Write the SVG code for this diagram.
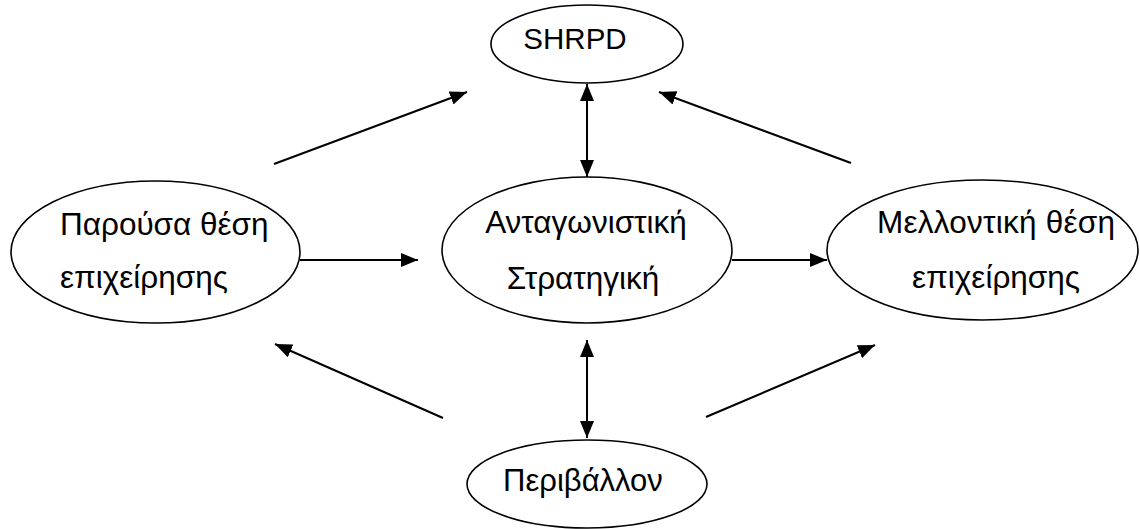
<svg xmlns="http://www.w3.org/2000/svg" width="1140" height="529" viewBox="0 0 1140 529">
<style>
.node ellipse{fill:#fff;stroke:#000;stroke-width:1.6}
.node text{font-family:"Liberation Sans",Arial,sans-serif;font-size:31.5px;fill:#000}
#shrpd text{font-size:29.5px}
#perivallon text{font-size:31px}
.c line{stroke:#000;stroke-width:2}
.a{marker-end:url(#ah)}
.d{marker-start:url(#ah);marker-end:url(#ah)}
</style>
<defs>
<marker id="ah" markerUnits="userSpaceOnUse" markerWidth="18" markerHeight="14" refX="17" refY="7" orient="auto-start-reverse" viewBox="0 0 18 14">
<path d="M0,0 L17,7 L0,14 z" fill="#000"/>
</marker>
</defs>
<rect width="1140" height="529" fill="#fff"/>
<g id="shrpd" class="node">
<ellipse cx="587" cy="44" rx="96" ry="39"/>
<text x="575" y="49" text-anchor="middle">SHRPD</text>
</g>
<g id="parousa" class="node">
<ellipse cx="155.5" cy="252" rx="144.5" ry="71"/>
<text x="60" y="235">Παρούσα θέση</text>
<text x="60" y="288">επιχείρησης</text>
</g>
<g id="antagonistiki" class="node">
<ellipse cx="587" cy="250" rx="145" ry="73"/>
<text x="586" y="233" text-anchor="middle">Ανταγωνιστική</text>
<text x="583" y="289" text-anchor="middle">Στρατηγική</text>
</g>
<g id="mellontiki" class="node">
<ellipse cx="982.5" cy="250" rx="155.5" ry="70"/>
<text x="996" y="233" text-anchor="middle" textLength="238">Μελλοντική θέση</text>
<text x="996" y="288" text-anchor="middle">επιχείρησης</text>
</g>
<g id="perivallon" class="node">
<ellipse cx="587" cy="484" rx="120" ry="44"/>
<text x="583" y="491" text-anchor="middle">Περιβάλλον</text>
</g>
<g id="connectors" class="c">
<line class="a" x1="274" y1="164" x2="467" y2="92"/>
<line class="a" x1="851" y1="163" x2="659" y2="92"/>
<line class="d" x1="587" y1="84" x2="587" y2="177"/>
<line class="a" x1="300" y1="260" x2="418" y2="260"/>
<line class="a" x1="732" y1="260" x2="827" y2="260"/>
<line class="d" x1="587" y1="340" x2="587" y2="438"/>
<line class="a" x1="443" y1="418" x2="275" y2="344"/>
<line class="a" x1="706" y1="417" x2="875" y2="345"/>
</g>
</svg>
